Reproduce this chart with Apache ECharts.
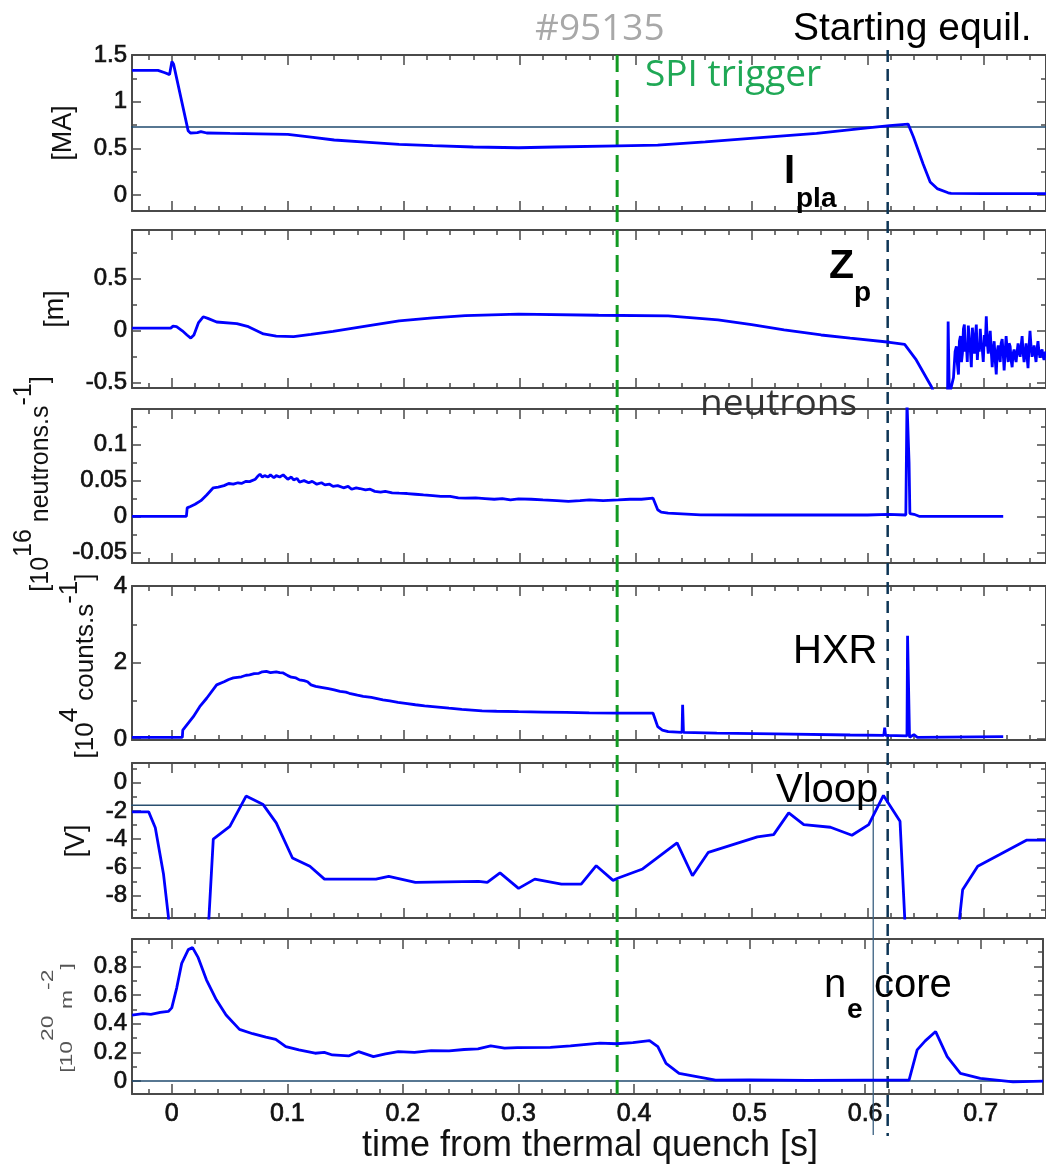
<!DOCTYPE html>
<html><head><meta charset="utf-8">
<script src="https://cdn.jsdelivr.net/npm/echarts@6/dist/echarts.min.js"></script>
<style>html,body{margin:0;padding:0;background:#fff;}#c{width:1046px;height:1164px;}</style>
</head><body><div id="c"></div>
<script>
// ---------- x axis ----------
const xMin = -0.0344, xMax = 0.7539;
const xTickLabels = [0, 0.1, 0.2, 0.3, 0.4, 0.5, 0.6, 0.7];

// ---------- y tick labels per panel ----------
const iplaTicks = [0, 0.5, 1, 1.5];
const zpTicks = [-0.5, 0, 0.5];
const neutTicks = [-0.05, 0, 0.05, 0.1];
const hxrTicks = [0, 2, 4];
const vloopTicks = [-8, -6, -4, -2, 0];
const neTicks = [0, 0.2, 0.4, 0.6, 0.8];

// ---------- series values [time (s), value] ----------
const ipla = [[-0.0344,1.336],[-0.012,1.336],[-0.006,1.31],[-0.002,1.29],[0.0,1.43],[0.0015,1.40],[0.014,0.69],[0.016,0.665],[0.022,0.67],[0.025,0.68],[0.03,0.665],[0.05,0.66],[0.1,0.65],[0.12,0.62],[0.14,0.59],[0.17,0.565],[0.196,0.543],[0.225,0.53],[0.26,0.515],[0.299,0.507],[0.33,0.515],[0.385,0.528],[0.419,0.536],[0.46,0.57],[0.499,0.607],[0.556,0.66],[0.6,0.72],[0.619,0.743],[0.635,0.76],[0.6395,0.625],[0.648,0.33],[0.654,0.14],[0.66,0.07],[0.6695,0.025],[0.672,0.018],[0.7,0.016],[0.7539,0.016]];

const zp = [[-0.0344,0.026],[-0.001,0.026],[0.001,0.045],[0.004,0.04],[0.009,0.0],[0.013,-0.04],[0.0163,-0.07],[0.019,-0.04],[0.023,0.08],[0.027,0.135],[0.031,0.12],[0.0386,0.085],[0.056,0.07],[0.066,0.04],[0.079,-0.03],[0.09,-0.05],[0.105,-0.055],[0.12,-0.035],[0.139,-0.006],[0.17,0.05],[0.196,0.096],[0.225,0.125],[0.253,0.147],[0.299,0.16],[0.368,0.15],[0.428,0.144],[0.471,0.106],[0.5,0.06],[0.528,0.01],[0.56,-0.04],[0.585,-0.07],[0.619,-0.11],[0.632,-0.13],[0.642,-0.28],[0.655,-0.535],[0.658,-0.62],[0.669,-0.62],
[0.6695,0.09],[0.6705,-0.62],[0.672,-0.62],[0.6741,-0.45],[0.6755,-0.2],[0.6766,-0.15],[0.6775,-0.32],[0.6784,-0.42],[0.6792,-0.1],[0.6801,-0.05],[0.681,-0.3],[0.6818,-0.22],[0.6827,0.02],[0.6835,0.06],[0.6843,-0.2],[0.6852,-0.12],[0.686,-0.3],[0.6869,0.05],[0.6878,-0.08],[0.6886,-0.18],[0.6895,-0.35],[0.6904,0.03],[0.6912,-0.1],[0.6921,-0.22],[0.693,-0.05],[0.6938,0.06],[0.6947,-0.28],[0.6955,-0.12],[0.6964,-0.2],[0.6972,0.02],[0.698,-0.12],[0.6989,-0.17],[0.6998,-0.3],[0.7007,-0.04],[0.7015,-0.15],[0.7024,0.14],[0.7032,-0.1],[0.7041,-0.22],[0.705,-0.08],[0.7058,0.0],[0.7067,-0.2],[0.7075,-0.35],[0.7084,-0.18],[0.7092,-0.1],[0.7101,-0.28],[0.711,-0.42],[0.7118,-0.2],[0.7127,-0.14],[0.7135,-0.25],[0.7144,-0.3],[0.7152,-0.12],[0.7161,-0.08],[0.717,-0.22],[0.7178,-0.38],[0.7187,-0.2],[0.7195,-0.05],[0.7204,-0.18],[0.7213,-0.3],[0.7221,-0.12],[0.723,-0.15],[0.7238,-0.28],[0.7247,-0.35],[0.7255,-0.22],[0.7264,-0.18],[0.7273,-0.26],[0.7281,-0.3],[0.729,-0.2],[0.7298,-0.12],[0.7307,-0.2],[0.7316,-0.25],[0.7324,-0.15],[0.7333,-0.05],[0.7341,-0.2],[0.735,-0.3],[0.7358,-0.22],[0.7367,-0.12],[0.7376,-0.25],[0.7384,-0.36],[0.7393,-0.15],[0.7401,0.0],[0.741,-0.15],[0.7419,-0.25],[0.7427,-0.2],[0.7436,-0.14],[0.7444,-0.22],[0.7453,-0.3],[0.7461,-0.18],[0.747,-0.1],[0.7478,-0.2],[0.7487,-0.26],[0.7496,-0.2],[0.7505,-0.18],[0.7513,-0.24],[0.7522,-0.28],[0.753,-0.22],[0.7539,-0.2]];

const neutrons = [[-0.0344,0],[0.0125,0],[0.0132,0.012],[0.016,0.014],[0.02,0.017],[0.025,0.022],[0.03,0.03],[0.0357,0.04],[0.04,0.041],[0.045,0.043],[0.049,0.046],[0.053,0.045],[0.057,0.047],[0.06,0.046],[0.064,0.049],[0.067,0.0486],[0.072,0.052],[0.074,0.056],[0.076,0.059],[0.078,0.055],[0.08,0.057],[0.083,0.055],[0.085,0.058],[0.088,0.054],[0.09,0.057],[0.093,0.055],[0.096,0.058],[0.1,0.052],[0.103,0.055],[0.105,0.051],[0.108,0.053],[0.11,0.048],[0.114,0.05],[0.118,0.047],[0.121,0.049],[0.125,0.045],[0.129,0.047],[0.132,0.044],[0.136,0.045],[0.139,0.042],[0.143,0.043],[0.148,0.04],[0.152,0.042],[0.155,0.038],[0.159,0.04],[0.162,0.039],[0.167,0.037],[0.171,0.038],[0.175,0.035],[0.18,0.034],[0.184,0.035],[0.19,0.033],[0.196,0.0325],[0.203,0.032],[0.21,0.031],[0.217,0.03],[0.225,0.029],[0.232,0.028],[0.24,0.028],[0.247,0.026],[0.253,0.0255],[0.262,0.026],[0.27,0.025],[0.278,0.024],[0.285,0.025],[0.292,0.023],[0.299,0.0245],[0.31,0.024],[0.32,0.023],[0.332,0.022],[0.342,0.021],[0.352,0.022],[0.36,0.023],[0.372,0.022],[0.385,0.023],[0.395,0.024],[0.405,0.024],[0.415,0.0255],[0.419,0.0093],[0.422,0.006],[0.428,0.0047],[0.456,0.0023],[0.5,0.002],[0.6,0.002],[0.618,0.003],[0.633,0.002],[0.634,0.16],[0.6352,0.16],[0.6358,0.075],[0.6365,0.004],[0.64,0.003],[0.645,0.0],[0.717,0.0]];

const hxr = [[-0.0344,0.05],[0.009,0.05],[0.0094,0.24],[0.0185,0.59],[0.024,0.85],[0.03,1.07],[0.0386,1.42],[0.045,1.5],[0.049,1.56],[0.053,1.6],[0.06,1.63],[0.064,1.67],[0.067,1.68],[0.071,1.71],[0.075,1.72],[0.078,1.76],[0.0815,1.77],[0.085,1.74],[0.09,1.76],[0.093,1.74],[0.096,1.73],[0.1,1.66],[0.103,1.62],[0.107,1.6],[0.11,1.55],[0.114,1.53],[0.117,1.5],[0.12,1.42],[0.124,1.38],[0.13,1.35],[0.135,1.32],[0.14,1.29],[0.145,1.25],[0.15,1.23],[0.153,1.2],[0.16,1.15],[0.165,1.12],[0.172,1.09],[0.182,1.03],[0.188,1.0],[0.195,0.96],[0.203,0.93],[0.21,0.9],[0.218,0.87],[0.225,0.85],[0.232,0.83],[0.239,0.81],[0.25,0.78],[0.2675,0.74],[0.28,0.73],[0.299,0.72],[0.32,0.71],[0.34,0.7],[0.36,0.69],[0.385,0.68],[0.415,0.68],[0.419,0.33],[0.423,0.24],[0.428,0.2],[0.44,0.18],[0.4405,0.9],[0.4412,0.18],[0.47,0.16],[0.52,0.14],[0.585,0.11],[0.614,0.1],[0.6148,0.3],[0.6155,0.1],[0.634,0.09],[0.6345,2.7],[0.6355,2.7],[0.6362,0.05],[0.64,0.12],[0.643,0.05],[0.717,0.07]];

const vloop = [[-0.0344,-2.07],[-0.02,-2.07],[-0.0143,-3.2],[-0.0072,-6.5],[-0.003,-9.5],[-0.0025,-10.5],[0.031,-10.5],[0.032,-9.5],[0.0357,-4.0],[0.05,-3.1],[0.064,-0.95],[0.0787,-1.55],[0.09,-2.85],[0.104,-5.34],[0.119,-5.93],[0.1316,-6.84],[0.176,-6.84],[0.187,-6.65],[0.21,-7.07],[0.2646,-7.0],[0.272,-7.07],[0.283,-6.4],[0.299,-7.5],[0.313,-6.84],[0.336,-7.19],[0.353,-7.19],[0.366,-5.89],[0.3805,-6.93],[0.385,-6.76],[0.406,-6.12],[0.4357,-4.27],[0.449,-6.6],[0.4627,-4.94],[0.505,-3.84],[0.519,-3.68],[0.532,-2.14],[0.545,-2.97],[0.568,-3.16],[0.5865,-3.73],[0.601,-2.97],[0.6137,-0.9],[0.628,-2.73],[0.632,-9.5],[0.6325,-10.5],[0.679,-10.5],[0.6795,-9.5],[0.682,-7.6],[0.695,-5.93],[0.714,-5.1],[0.737,-4.08],[0.7539,-4.08]];

const neCore = [[-0.0344,0.46],[-0.025,0.47],[-0.018,0.465],[-0.01,0.478],[-0.003,0.485],[0.0,0.51],[0.0043,0.65],[0.0086,0.82],[0.0143,0.916],[0.018,0.93],[0.0229,0.86],[0.03,0.706],[0.0386,0.566],[0.047,0.46],[0.0586,0.36],[0.07,0.33],[0.0815,0.306],[0.09,0.29],[0.0987,0.24],[0.11,0.217],[0.124,0.194],[0.132,0.2],[0.139,0.182],[0.153,0.175],[0.1616,0.205],[0.1745,0.17],[0.185,0.19],[0.196,0.205],[0.21,0.2],[0.2245,0.212],[0.24,0.21],[0.253,0.22],[0.265,0.225],[0.276,0.245],[0.288,0.23],[0.299,0.233],[0.3276,0.235],[0.345,0.245],[0.3705,0.264],[0.385,0.26],[0.399,0.268],[0.4134,0.282],[0.4206,0.24],[0.4277,0.124],[0.439,0.054],[0.4706,0.007],[0.5,0.008],[0.55,0.005],[0.6,0.006],[0.638,0.006],[0.645,0.217],[0.652,0.28],[0.661,0.345],[0.671,0.17],[0.6824,0.054],[0.6996,0.019],[0.728,-0.005],[0.7539,0.0]];

// ---------- reference / event lines ----------
const iplaRef = [[-0.047,0.73],[0.7539,0.73]];
const vloopRef = [[-0.0557,-1.6],[0.6156,-1.6]];
const neZeroRef = [[-0.0344,0],[0.7539,0]];
const spiLine = [[0.3854,7.15],[0.3854,-0.09]];
const equilLine = [[0.6195,7.185],[0.6195,-0.383]];
const peakLine = [[0.607,2.084],[0.607,-0.376]];

// ---------- layout ----------
const panels = [
  {top:55, height:156, min:-0.17, max:1.5, ticks:iplaTicks, data:ipla},
  {top:230, height:158, min:-0.55, max:0.97, ticks:zpTicks, data:zp},
  {top:409, height:154, min:-0.065, max:0.15, ticks:neutTicks, data:neutrons},
  {top:586, height:154, min:-0.02, max:4, ticks:hxrTicks, data:hxr},
  {top:763, height:155, min:-9.6, max:1.4, ticks:vloopTicks, data:vloop},
  {top:939, height:155, min:-0.09, max:0.99, ticks:neTicks, data:neCore}
];
const yIntervals = [0.5, 0.5, 0.05, 2, 2, 0.2];

const frame = '#4a4a4a';
const fontSans = '"Liberation Sans", Arial, sans-serif';
const fontOS = '"Open Sans", sans-serif';

function labelFmt(list){
  return function(v){
    for (const l of list) if (Math.abs(l - v) < 1e-6) return String(l);
    return '';
  };
}

const grid = [], xAxis = [], yAxis = [], series = [];
panels.forEach((p, i) => {
  grid.push({left:132, width:916, top:p.top, height:p.height, containLabel:false});
  const common = {
    type:'value', gridIndex:i, min:xMin, max:xMax, minInterval:0.1, maxInterval:0.1,
    axisLine:{show:true, onZero:false, lineStyle:{color:frame, width:2}},
    axisTick:{show:true, inside:true, length:10, lineStyle:{color:frame, width:1.5}},
    minorTick:{show:true, splitNumber:5, length:5, lineStyle:{color:frame, width:1.5}},
    splitLine:{show:false}, minorSplitLine:{show:false}
  };
  xAxis.push(Object.assign({}, common, {position:'bottom',
    axisLabel:{show:i===5, formatter:labelFmt(xTickLabels), fontSize:25, color:'#111', fontFamily:fontSans, margin:8,
      textBorderColor:'#111', textBorderWidth:0.7}}));
  xAxis.push(Object.assign({}, common, {position:'top', axisLabel:{show:false}}));
  const yc = {
    type:'value', gridIndex:i, min:p.min, max:p.max, minInterval:yIntervals[i], maxInterval:yIntervals[i],
    axisLine:{show:true, onZero:false, lineStyle:{color:frame, width:2}},
    axisTick:{show:true, inside:true, length:9, lineStyle:{color:frame, width:1.5}},
    minorTick:{show:true, splitNumber:2, length:5, lineStyle:{color:frame, width:1.5}},
    splitLine:{show:false}, minorSplitLine:{show:false}
  };
  yAxis.push(Object.assign({}, yc, {position:'left',
    axisLabel:{show:true, formatter:labelFmt(p.ticks), fontSize:24, color:'#111', fontFamily:fontSans, margin:5,
      textBorderColor:'#111', textBorderWidth:0.7}}));
  yAxis.push(Object.assign({}, yc, {position:'right', axisLabel:{show:false}}));
  series.push({type:'line', xAxisIndex:2*i, yAxisIndex:2*i, data:p.data, showSymbol:false, symbol:'none',
    lineStyle:{color:'#0000ff', width:2.8}, clip:true, z:5});
});

function refLine(data, panel, color, width, type){
  return {type:'line', xAxisIndex:2*panel, yAxisIndex:2*panel, data:data, showSymbol:false, symbol:'none',
    clip:false, lineStyle:{color:color, width:width, type:type||'solid'}, z:4};
}
series.push(refLine(iplaRef, 0, '#1f4a6e', 1.5));
series.push(refLine(vloopRef, 4, '#2a5070', 1.3));
series.push(refLine(neZeroRef, 5, '#1f4a6e', 1.5));
series.push(refLine(peakLine, 5, '#3a6080', 1.3));
series.push(refLine(spiLine, 5, '#119a22', 3, [17, 8]));
series.push(refLine(equilLine, 5, '#0d3556', 2.5, [12, 7]));

function txt(text, x, y, size, opts){
  opts = opts || {};
  return {type:'text', x:x, y:y, z:100, rotation:opts.rotation||0, scaleX:opts.scaleX||1,
    style:{text:text, fontSize:size, fontFamily:opts.family||fontSans, fontWeight:opts.weight||'normal',
      fill:opts.fill||'#000', textAlign:opts.align||'left', textVerticalAlign:'middle', rich:opts.rich}};
}
function supRich(size, lh, color){
  return {a:{fontSize:size, lineHeight:lh, fontFamily:fontSans, fill:color},
          s:{fontSize:size, lineHeight:size, verticalAlign:'top', fontFamily:fontSans, fill:color}};
}
const R = Math.PI/2;
const graphic = [
  txt('#95135', 535, 29, 37, {family:fontOS, fill:'#a8a8a8'}),
  txt('Starting equil.', 793, 29, 39, {}),
  txt('SPI trigger', 645, 75, 37, {family:fontOS, fill:'#1fa855'}),
  txt('I', 784, 172, 40, {weight:'bold'}),
  txt('pla', 796, 199, 28, {weight:'bold'}),
  txt('Z', 829, 267, 41, {weight:'bold'}),
  txt('p', 854, 293, 28, {weight:'bold'}),
  txt('neutrons', 700, 404, 37, {family:fontOS, fill:'#333'}),
  txt('HXR', 793, 652, 40, {}),
  txt('Vloop', 776, 791, 40, {}),
  txt('n', 824, 986, 40, {}),
  txt('e', 847, 1010, 28, {weight:'bold'}),
  txt('core', 874, 986, 40, {}),
  txt('time from thermal quench [s]', 590, 1146, 36, {align:'center', fill:'#111'}),
  // y-axis titles
  txt('[MA]', 64, 133, 27, {align:'center', rotation:R, fill:'#111'}),
  txt('[m]', 56, 309, 27, {align:'center', rotation:R, fill:'#111'}),
  txt('{a|[10}{s|16}{a| neutrons.s}{s|-1}{a|]}', 41, 484, 25, {align:'center', rotation:R, rich:supRich(25, 59, '#111')}),
  txt('{a|[10}{s|4}{a| counts.s}{s|-1}{a|]}', 86, 666, 26, {align:'center', rotation:R, rich:supRich(26, 58, '#111')}),
  txt('[V]', 77, 841, 27, {align:'center', rotation:R, fill:'#111'}),
  txt('{a|[10}{s|20}{a| m}{s|-2}{a|]}', 67, 1018, 17, {align:'center', rotation:R, scaleX:1.35, rich:supRich(17, 55, '#555')})
];

const chart = echarts.init(document.getElementById('c'), null, {renderer:'canvas'});
chart.setOption({animation:false, backgroundColor:'#fff', grid, xAxis, yAxis, series, graphic});
</script></body></html>
